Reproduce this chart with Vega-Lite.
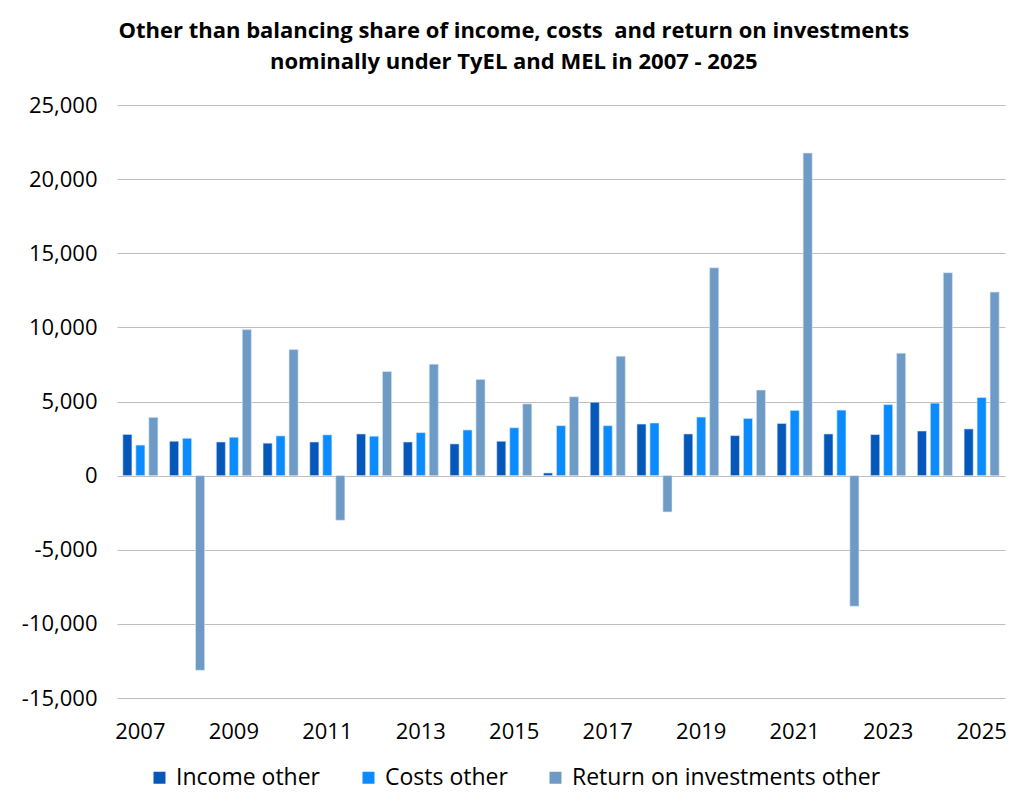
{
  "$schema": "https://vega.github.io/schema/vega-lite/v6.json",
  "width": 888,
  "height": 593,
  "autosize": "none",
  "padding": {"left": 117, "top": 105, "right": 19, "bottom": 114},
  "background": "#ffffff",
  "title": {
    "text": ["Other than balancing share of income, costs\u00a0 and return on investments", "nominally under TyEL and MEL in 2007 - 2025"],
    "anchor": "middle",
    "frame": "bounds",
    "font": "Open Sans",
    "fontSize": 22,
    "fontWeight": "bold",
    "color": "#000000",
    "lineHeight": 31,
    "offset": 20
  },
  "config": {
    "view": {"stroke": null},
    "font": "Open Sans",
    "axis": {
      "labelFont": "Open Sans",
      "labelFontSize": 22,
      "labelColor": "#000000",
      "domain": false,
      "ticks": false,
      "title": null
    },
    "legend": {
      "labelFont": "Open Sans",
      "labelFontSize": 23,
      "labelColor": "#000000",
      "labelLimit": 0
    }
  },
  "data": {
    "values": [
      {"year": "2007", "series": "Income other", "value": 2780},
      {"year": "2007", "series": "Costs other", "value": 2060},
      {"year": "2007", "series": "Return on investments other", "value": 3930},
      {"year": "2008", "series": "Income other", "value": 2320},
      {"year": "2008", "series": "Costs other", "value": 2520},
      {"year": "2008", "series": "Return on investments other", "value": -13130},
      {"year": "2009", "series": "Income other", "value": 2270},
      {"year": "2009", "series": "Costs other", "value": 2590},
      {"year": "2009", "series": "Return on investments other", "value": 9850},
      {"year": "2010", "series": "Income other", "value": 2190},
      {"year": "2010", "series": "Costs other", "value": 2680},
      {"year": "2010", "series": "Return on investments other", "value": 8500},
      {"year": "2011", "series": "Income other", "value": 2270},
      {"year": "2011", "series": "Costs other", "value": 2750},
      {"year": "2011", "series": "Return on investments other", "value": -3010},
      {"year": "2012", "series": "Income other", "value": 2810},
      {"year": "2012", "series": "Costs other", "value": 2660},
      {"year": "2012", "series": "Return on investments other", "value": 7020},
      {"year": "2013", "series": "Income other", "value": 2270},
      {"year": "2013", "series": "Costs other", "value": 2900},
      {"year": "2013", "series": "Return on investments other", "value": 7520},
      {"year": "2014", "series": "Income other", "value": 2140},
      {"year": "2014", "series": "Costs other", "value": 3080},
      {"year": "2014", "series": "Return on investments other", "value": 6490},
      {"year": "2015", "series": "Income other", "value": 2320},
      {"year": "2015", "series": "Costs other", "value": 3230},
      {"year": "2015", "series": "Return on investments other", "value": 4840},
      {"year": "2016", "series": "Income other", "value": 180},
      {"year": "2016", "series": "Costs other", "value": 3370},
      {"year": "2016", "series": "Return on investments other", "value": 5320},
      {"year": "2017", "series": "Income other", "value": 4950},
      {"year": "2017", "series": "Costs other", "value": 3370},
      {"year": "2017", "series": "Return on investments other", "value": 8060},
      {"year": "2018", "series": "Income other", "value": 3480},
      {"year": "2018", "series": "Costs other", "value": 3550},
      {"year": "2018", "series": "Return on investments other", "value": -2450},
      {"year": "2019", "series": "Income other", "value": 2810},
      {"year": "2019", "series": "Costs other", "value": 3950},
      {"year": "2019", "series": "Return on investments other", "value": 14020},
      {"year": "2020", "series": "Income other", "value": 2700},
      {"year": "2020", "series": "Costs other", "value": 3860},
      {"year": "2020", "series": "Return on investments other", "value": 5770},
      {"year": "2021", "series": "Income other", "value": 3520},
      {"year": "2021", "series": "Costs other", "value": 4400},
      {"year": "2021", "series": "Return on investments other", "value": 21760},
      {"year": "2022", "series": "Income other", "value": 2810},
      {"year": "2022", "series": "Costs other", "value": 4420},
      {"year": "2022", "series": "Return on investments other", "value": -8810},
      {"year": "2023", "series": "Income other", "value": 2770},
      {"year": "2023", "series": "Costs other", "value": 4790},
      {"year": "2023", "series": "Return on investments other", "value": 8260},
      {"year": "2024", "series": "Income other", "value": 3010},
      {"year": "2024", "series": "Costs other", "value": 4890},
      {"year": "2024", "series": "Return on investments other", "value": 13690},
      {"year": "2025", "series": "Income other", "value": 3150},
      {"year": "2025", "series": "Costs other", "value": 5270},
      {"year": "2025", "series": "Return on investments other", "value": 12380}
    ]
  },
  "mark": {"type": "bar", "stroke": "#dbe8f5", "strokeWidth": 0.6},
  "encoding": {
    "x": {
      "field": "year",
      "type": "ordinal",
      "scale": {"paddingInner": 0.25, "paddingOuter": 0.125},
      "axis": {
        "labelAngle": 0,
        "labelPadding": 23,
        "grid": false,
        "values": ["2007", "2009", "2011", "2013", "2015", "2017", "2019", "2021", "2023", "2025"]
      }
    },
    "xOffset": {
      "field": "series",
      "type": "nominal",
      "sort": ["Income other", "Costs other", "Return on investments other"],
      "scale": {"paddingInner": 0.3}
    },
    "y": {
      "field": "value",
      "type": "quantitative",
      "scale": {"domain": [-15000, 25000], "nice": false},
      "axis": {
        "values": [-15000, -10000, -5000, 0, 5000, 10000, 15000, 20000, 25000],
        "format": ",d",
        "labelExpr": "replace(datum.label, '\u2212', '-')",
        "labelPadding": 20,
        "grid": true,
        "gridColor": "#bfbfbf",
        "gridWidth": 1
      }
    },
    "color": {
      "field": "series",
      "type": "nominal",
      "sort": ["Income other", "Costs other", "Return on investments other"],
      "scale": {
        "domain": ["Income other", "Costs other", "Return on investments other"],
        "range": ["#0558b9", "#0a8cff", "#6e9bc5"]
      },
      "legend": {
        "orient": "none",
        "legendX": 31,
        "legendY": 661,
        "direction": "horizontal",
        "title": null,
        "symbolType": "square",
        "symbolSize": 144,
        "symbolStrokeWidth": 0,
        "columnPadding": 36,
        "labelOffset": 5
      }
    }
  }
}
